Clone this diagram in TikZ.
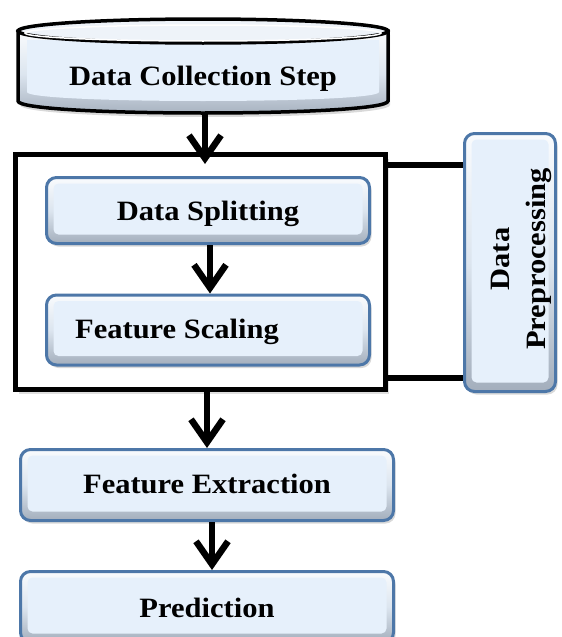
\documentclass[tikz,border=0pt]{standalone}
\usepackage{fontspec}
\setmainfont[FakeStretch=1.09]{Liberation Serif}
\usetikzlibrary{arrows.meta,shadows}
\definecolor{boxblue}{HTML}{4D77A8}
\definecolor{innerblue}{HTML}{E6F0FB}
\definecolor{bevtop}{HTML}{F9FBFD}
\definecolor{bevmid}{HTML}{DCE5EF}
\definecolor{bevbot}{HTML}{A3AEBC}
\definecolor{toptop}{HTML}{EEF3F9}
\tikzset{
  lbl/.style={font=\fontsize{28}{36}\selectfont\bfseries, text=black, align=center, inner sep=0pt},
  bevelbox/.style={draw=boxblue, line width=3pt, rounded corners=10pt,
    top color=bevtop, bottom color=bevbot, middle color=bevmid,
    drop shadow={shadow xshift=2pt, shadow yshift=-3pt, opacity=0.3},
    path picture={\fill[innerblue, rounded corners=5pt]
      ([shift={(7pt,-6pt)}]path picture bounding box.north west) rectangle
      ([shift={(-7pt,9pt)}]path picture bounding box.south east);}},
  framebox/.style={draw=black, line width=5pt, fill=white,
    drop shadow={shadow xshift=3pt, shadow yshift=-4pt, opacity=0.25}},
  arr/.style={draw=black, line width=6.5pt, -{Straight Barb[length=23pt,width=32pt]}},
  link/.style={draw=black, line width=6.5pt}
}
\begin{document}
\begin{tikzpicture}[x=1pt,y=-1pt]
\useasboundingbox (0,0) rectangle (562,637);
% cylinder
\path[draw=black, line width=3.5pt, top color=bevtop, bottom color=bevbot, middle color=bevmid,
  drop shadow={shadow xshift=2pt, shadow yshift=-4pt, opacity=0.3}]
  (18,31) -- (18,101) .. controls (18,117) and (388,117) .. (388,101) -- (388,31) -- cycle;
\fill[innerblue] (27,40) -- (27,92) .. controls (27,104) and (379,104) .. (379,92) -- (379,40) -- cycle;
\draw[line width=3.5pt, fill=toptop] (203,31) ellipse [x radius=185pt, y radius=12pt];
\draw[white, line width=1.5pt] (203,33) ellipse [x radius=178pt, y radius=8pt];
\node[lbl, anchor=base] (dc) at (203,85) {Data Collection Step};
\coordinate (dcb) at (205,114);
% preprocessing frame
\node[framebox, minimum width=370pt, minimum height=235pt] (pre) at (200.5,272) {};
\node[bevelbox, minimum width=323pt, minimum height=66pt] (ds) at (208,210.5) {};
\node[lbl, anchor=base] (dst) at (208,220) {Data Splitting};
\node[bevelbox, minimum width=323pt, minimum height=70pt] (fs) at (208,330) {};
\node[lbl, anchor=base] (fst) at (177,338) {Feature Scaling};
% data preprocessing side box
\node[bevelbox, minimum width=91pt, minimum height=258pt] (dp) at (510,262.5) {};
\node[lbl, rotate=90] (dpt) at (521,259) {Data\\Preprocessing};
% lower boxes
\node[bevelbox, minimum width=373pt, minimum height=71pt] (fe) at (207,485) {};
\node[lbl, anchor=base] (fet) at (207,493) {Feature Extraction};
\node[bevelbox, minimum width=373pt, minimum height=71pt] (pr) at (207,607) {};
\node[lbl, anchor=base] (prt) at (207,617) {Prediction};
% connectors
\draw[link] ([yshift=-13pt]pre.north east) -- ([yshift=-33pt]dp.north west);
\draw[link] ([yshift=14pt]pre.south east) -- ([yshift=15pt]dp.south west);
\draw[arr] (dcb) -- ([yshift=-12pt]dcb |- pre.north);
\draw[arr] ([xshift=2pt]ds.south) -- ([xshift=2pt]fs.north);
\draw[arr] (pre.south -| fe.north) -- (fe.north);
\draw[arr] ([xshift=5pt]fe.south) -- ([xshift=5pt]pr.north);
\end{tikzpicture}
\end{document}
